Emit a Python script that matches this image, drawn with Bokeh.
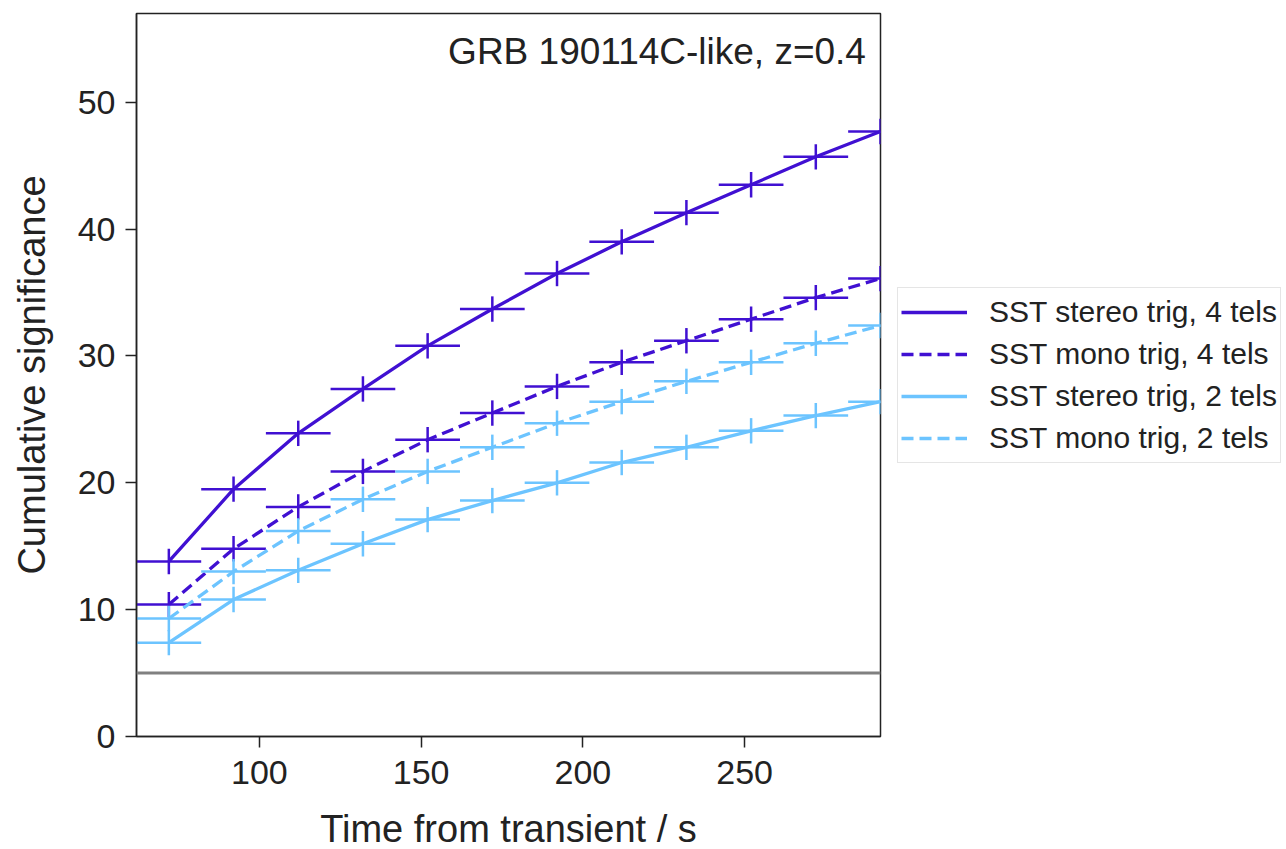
from bokeh.plotting import figure
from bokeh.models import Legend, LegendItem, Span, Label, Range1d, FixedTicker, ColumnDataSource
from bokeh.embed import file_html
from bokeh.resources import INLINE

# ---- data ----
time_s = [72, 92, 112, 132, 152, 172, 192, 212, 232, 252, 272, 292]
time_halfwidth = 10
sig_err = 1.0
stereo_4tels = [13.8, 19.5, 23.9, 27.4, 30.8, 33.7, 36.5, 39.0, 41.3, 43.5, 45.7, 47.7]
mono_4tels = [10.4, 14.8, 18.1, 20.9, 23.4, 25.5, 27.6, 29.5, 31.2, 32.9, 34.6, 36.1]
stereo_2tels = [7.4, 10.8, 13.1, 15.2, 17.1, 18.6, 20.0, 21.6, 22.8, 24.1, 25.3, 26.4]
mono_2tels = [9.3, 13.0, 16.2, 18.7, 20.9, 22.8, 24.7, 26.4, 28.0, 29.5, 31.0, 32.4]
threshold = 5
x_ticks = [100, 150, 200, 250]
y_ticks = [0, 10, 20, 30, 40, 50]
title_text = "GRB 190114C-like, z=0.4"
x_label = "Time from transient / s"
y_label = "Cumulative significance"

FONT = "Liberation Sans"
DARK = "#4010d2"
LIGHT = "#6cc4ff"
TXT = "#222222"

XMIN, XMAX, YMIN, YMAX = 62, 292, 0, 57

p = figure(frame_width=744, frame_height=723, output_backend="svg", toolbar_location=None,
           x_range=Range1d(XMIN, XMAX), y_range=Range1d(YMIN, YMAX),
           min_border_left=136, min_border_right=0, min_border_top=13, min_border_bottom=113)
p.grid.visible = False
p.outline_line_color = TXT
p.outline_line_width = 1.5
p.background_fill_color = "white"
p.border_fill_color = "white"

for ax in (p.xaxis[0], p.yaxis[0]):
    ax.axis_line_color = TXT
    ax.axis_line_width = 1.5
    ax.major_tick_line_color = TXT
    ax.major_tick_line_width = 1.5
    ax.major_tick_out = 11
    ax.major_tick_in = 0
    ax.minor_tick_line_color = None
    ax.major_label_text_font = FONT
    ax.major_label_text_font_size = "34px"
    ax.major_label_text_color = TXT
    ax.axis_label_text_font = FONT
    ax.axis_label_text_font_size = "38px"
    ax.axis_label_text_color = TXT
    ax.axis_label_text_font_style = "normal"

p.xaxis.ticker = FixedTicker(ticks=x_ticks)
p.yaxis.ticker = FixedTicker(ticks=y_ticks)
p.xaxis.axis_label = x_label
p.yaxis.axis_label = y_label
p.xaxis.major_label_standoff = 13
p.yaxis.major_label_standoff = 10
p.xaxis.axis_label_standoff = 21
p.yaxis.axis_label_standoff = 22

p.add_layout(Span(location=threshold, dimension="width", line_color="#808080", line_width=3))

series = [
    ("SST stereo trig, 4 tels", stereo_4tels, DARK, "solid"),
    ("SST mono trig, 4 tels", mono_4tels, DARK, "12 6"),
    ("SST stereo trig, 2 tels", stereo_2tels, LIGHT, "solid"),
    ("SST mono trig, 2 tels", mono_2tels, LIGHT, "12 6"),
]

items = []
for name, vals, col, dash in series:
    src = ColumnDataSource(dict(
        x=time_s, y=vals,
        x0=[t - time_halfwidth for t in time_s], x1=[t + time_halfwidth for t in time_s],
        y0=[v - sig_err for v in vals], y1=[v + sig_err for v in vals],
    ))
    p.segment(x0="x0", y0="y", x1="x1", y1="y", source=src, line_color=col, line_width=2.5)
    p.segment(x0="x", y0="y0", x1="x", y1="y1", source=src, line_color=col, line_width=2.5)
    r = p.line(x="x", y="y", source=src, line_color=col, line_width=3.3, line_dash=dash)
    items.append(LegendItem(label=name, renderers=[r]))

p.add_layout(Label(x=287.5, y=54.0, text=title_text, text_align="right", text_baseline="middle",
                   text_font=FONT, text_font_size="37px", text_color=TXT))

legend = Legend(items=items, location="center_left", margin=17, padding=3, spacing=0,
                glyph_width=66, glyph_height=42, label_height=42, label_standoff=22,
                label_text_font=FONT, label_text_font_size="30px", label_text_color=TXT,
                border_line_color="#cccccc", border_line_width=1.5,
                background_fill_color="white", background_fill_alpha=1.0)
p.add_layout(legend, "right")

open("out.html", "w").write(file_html(p, INLINE))
